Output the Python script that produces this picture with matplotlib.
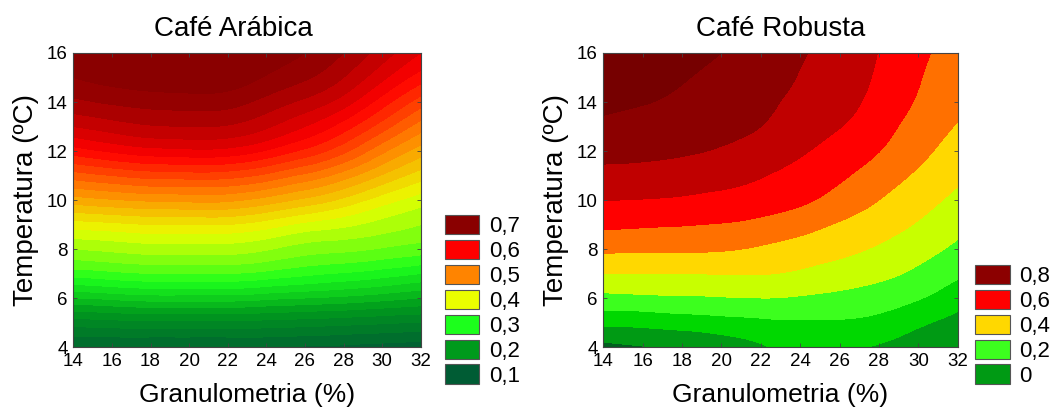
import numpy as np
import matplotlib
matplotlib.use('Agg')
import matplotlib.pyplot as plt
import matplotlib.tri as mtri
from matplotlib.colors import LinearSegmentedColormap, Normalize
from matplotlib.patches import Patch

plt.rcParams['font.family'] = ['Liberation Sans', 'DejaVu Sans']

# granulometria (%) on x, temperatura (ºC) on y
granulometria = [14, 16, 18, 20, 22, 24, 26, 28, 30, 32]
temperatura = [4, 5, 6, 7, 8, 9, 10, 11, 12, 13, 14, 15, 16]

# Café Arábica: one list per granulometria value, read along temperatura
arabica_cols = [
    [0.120, 0.170, 0.240, 0.310, 0.360, 0.410, 0.470, 0.530, 0.590, 0.640, 0.675, 0.700, 0.715],
    [0.120, 0.173, 0.245, 0.315, 0.365, 0.415, 0.478, 0.540, 0.603, 0.650, 0.683, 0.708, 0.723],
    [0.120, 0.175, 0.250, 0.320, 0.370, 0.420, 0.483, 0.548, 0.612, 0.658, 0.688, 0.713, 0.728],
    [0.120, 0.175, 0.250, 0.320, 0.370, 0.420, 0.485, 0.550, 0.615, 0.660, 0.690, 0.715, 0.730],
    [0.120, 0.175, 0.250, 0.320, 0.370, 0.420, 0.484, 0.548, 0.613, 0.658, 0.688, 0.713, 0.728],
    [0.120, 0.173, 0.245, 0.314, 0.362, 0.410, 0.472, 0.535, 0.598, 0.643, 0.673, 0.698, 0.713],
    [0.118, 0.170, 0.240, 0.305, 0.350, 0.395, 0.455, 0.515, 0.575, 0.620, 0.655, 0.683, 0.700],
    [0.116, 0.167, 0.235, 0.298, 0.345, 0.385, 0.435, 0.490, 0.545, 0.590, 0.630, 0.660, 0.680],
    [0.113, 0.163, 0.228, 0.290, 0.338, 0.372, 0.410, 0.458, 0.505, 0.550, 0.590, 0.625, 0.650],
    [0.110, 0.160, 0.220, 0.280, 0.330, 0.360, 0.390, 0.430, 0.470, 0.510, 0.550, 0.590, 0.620],
]

# Café Robusta: one list per temperatura value, read along granulometria
robusta_rows = [
    [-0.030, -0.005, 0.010, 0.040, 0.090, 0.120, 0.120, 0.090, 0.050, 0.020],
    [0.123, 0.130, 0.146, 0.163, 0.180, 0.190, 0.190, 0.170, 0.118, 0.070],
    [0.271, 0.280, 0.287, 0.294, 0.300, 0.290, 0.274, 0.250, 0.207, 0.141],
    [0.400, 0.400, 0.400, 0.405, 0.404, 0.386, 0.356, 0.325, 0.279, 0.217],
    [0.520, 0.514, 0.517, 0.509, 0.488, 0.459, 0.426, 0.388, 0.339, 0.278],
    [0.617, 0.612, 0.605, 0.595, 0.574, 0.540, 0.490, 0.444, 0.392, 0.332],
    [0.700, 0.697, 0.688, 0.673, 0.650, 0.617, 0.565, 0.500, 0.437, 0.377],
    [0.771, 0.766, 0.752, 0.737, 0.706, 0.665, 0.614, 0.553, 0.484, 0.418],
    [0.830, 0.823, 0.812, 0.792, 0.760, 0.712, 0.662, 0.602, 0.528, 0.455],
    [0.880, 0.865, 0.845, 0.824, 0.800, 0.748, 0.703, 0.637, 0.562, 0.493],
    [0.921, 0.905, 0.879, 0.849, 0.822, 0.776, 0.735, 0.665, 0.590, 0.520],
    [0.955, 0.934, 0.907, 0.874, 0.840, 0.795, 0.750, 0.685, 0.607, 0.540],
    [0.990, 0.965, 0.935, 0.900, 0.857, 0.809, 0.760, 0.697, 0.622, 0.555],
]

# legend values and colours
arabica_legend = [0.7, 0.6, 0.5, 0.4, 0.3, 0.2, 0.1]
arabica_colors = ['#8a0000', '#ff0000', '#ff8400', '#eaff00', '#1cff1c', '#009a1c', '#005c34']
robusta_legend = ['0,8', '0,6', '0,4', '0,2', '0']
robusta_legend_colors = ['#8c0000', '#ff0000', '#ffd800', '#3cff1e', '#009a14']
robusta_levels = [-0.1, 0.0, 0.1, 0.2, 0.3, 0.4, 0.5, 0.6, 0.7, 0.8, 0.9, 1.1]
robusta_band_colors = ['#005f1e', '#009a14', '#00d800', '#3cff1e', '#c8ff00', '#ffd800',
                       '#ff7000', '#ff0000', '#c00000', '#8c0000', '#760000']


def smooth_surface(xs, ys, Z):
    # Z has one row per y value
    X, Y = np.meshgrid(xs, ys)
    tri = mtri.Triangulation(X.ravel(), Y.ravel())
    interp = mtri.CubicTriInterpolator(tri, np.asarray(Z).ravel(), kind='min_E')
    xf, yf = np.meshgrid(np.linspace(14, 32, 360), np.linspace(4, 16, 360))
    return xf, yf, interp(xf, yf)


def style_axes(ax, title, title_x=0.5):
    ax.set_xlim(14, 32)
    ax.set_ylim(4, 16)
    ax.set_xticks(range(14, 33, 2))
    ax.set_yticks(range(4, 17, 2))
    ax.tick_params(direction='in', top=True, right=True, length=3, width=0.6,
                   color='#444444', labelsize=13.5, pad=4)
    for s in ax.spines.values():
        s.set_linewidth(0.8)
        s.set_color('#444444')
    ax.set_title(title, fontsize=20, pad=12, x=title_x)
    ax.set_xlabel('Granulometria (%)', fontsize=19, labelpad=10)
    ax.set_ylabel('Temperatura (ºC)', fontsize=20, labelpad=6)


def add_legend(ax, colors, labels, xoff):
    handles = [Patch(facecolor=c, edgecolor='#555555', linewidth=0.8) for c in colors]
    ax.legend(handles, labels, loc='lower left', bbox_to_anchor=(xoff, -0.135),
              frameon=False, fontsize=16, handlelength=1.55, handleheight=0.95,
              labelspacing=0.12, handletextpad=0.45, borderaxespad=0, borderpad=0)


fig = plt.figure(figsize=(10.52, 4.08), dpi=100)
ax1 = fig.add_axes([0.0697, 0.1495, 0.3302, 0.7206])
ax2 = fig.add_axes([0.5735, 0.1495, 0.3369, 0.7206])

# left: many levels, smooth gradient
cmap_a = LinearSegmentedColormap.from_list(
    'arabica', list(zip(np.linspace(0, 1, 7), arabica_colors[::-1])))
norm_a = Normalize(vmin=0.1, vmax=0.7)
xf, yf, zf = smooth_surface(granulometria, temperatura, np.array(arabica_cols).T)
ax1.contourf(xf, yf, zf, levels=np.arange(0.08, 0.761, 0.02), cmap=cmap_a, norm=norm_a,
             extend='both', antialiased=False)
style_axes(ax1, 'Café Arábica', title_x=0.46)
add_legend(ax1, arabica_colors, [f'{v:.1f}'.replace('.', ',') for v in arabica_legend], 1.07)

# right: 0.1 step bands
xf, yf, zf = smooth_surface(granulometria, temperatura, robusta_rows)
ax2.contourf(xf, yf, zf, levels=robusta_levels, colors=robusta_band_colors,
             extend='both', antialiased=False)
style_axes(ax2, 'Café Robusta')
add_legend(ax2, robusta_legend_colors, robusta_legend, 1.049)

fig.savefig('out.png', dpi=100)
